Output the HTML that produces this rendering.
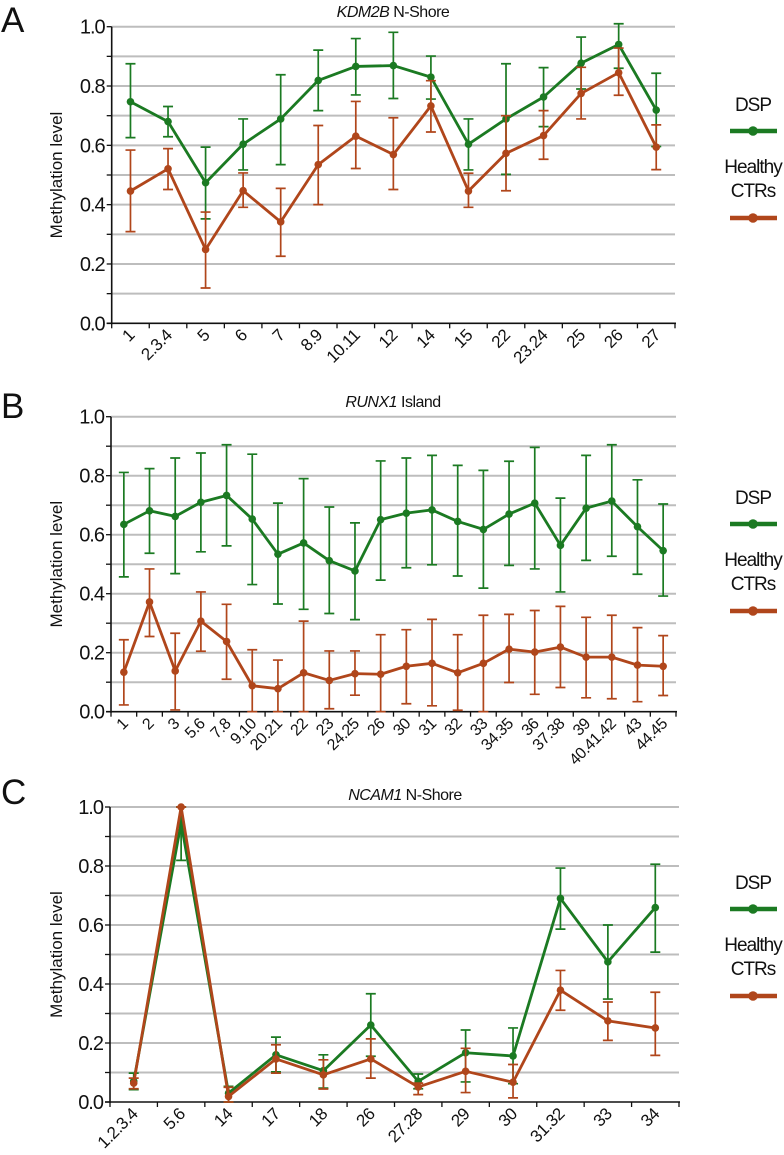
<!DOCTYPE html>
<html><head><meta charset="utf-8"><style>
html,body{margin:0;padding:0;background:#fff;width:784px;height:1155px;overflow:hidden}
svg{display:block;font-family:"Liberation Sans",Arial,sans-serif}
</style></head><body>
<svg id="fig" width="784" height="1155" viewBox="0 0 784 1155" xmlns="http://www.w3.org/2000/svg"></svg>
<script>
// Panel A data
const catsA = ["1","2.3.4","5","6","7","8.9","10.11","12","14","15","22","23.24","25","26","27"];
const dspA = [0.747,0.68,0.474,0.604,0.689,0.819,0.866,0.869,0.83,0.604,0.689,0.763,0.877,0.94,0.719];
const dspHiA = [0.875,0.731,0.594,0.689,0.838,0.921,0.96,0.981,0.901,0.689,0.875,0.862,0.965,1.01,0.843];
const dspLoA = [0.626,0.629,0.352,0.517,0.535,0.717,0.77,0.758,0.756,0.517,0.502,0.663,0.79,0.86,0.596];
const ctrA = [0.446,0.521,0.249,0.447,0.342,0.535,0.631,0.569,0.733,0.446,0.573,0.633,0.775,0.845,0.594];
const ctrHiA = [0.584,0.589,0.375,0.507,0.455,0.667,0.748,0.693,0.818,0.506,0.7,0.717,0.863,0.928,0.669];
const ctrLoA = [0.309,0.451,0.119,0.391,0.226,0.4,0.522,0.451,0.645,0.391,0.447,0.553,0.689,0.769,0.518];
// Panel B data
const catsB = ["1","2","3","5.6","7.8","9.10","20.21","22","23","24.25","26","30","31","32","33","34.35","36","37.38","39","40.41.42","43","44.45"];
const dspB = [0.635,0.681,0.662,0.71,0.733,0.653,0.534,0.572,0.512,0.477,0.651,0.673,0.684,0.645,0.618,0.67,0.707,0.564,0.69,0.714,0.627,0.546];
const dspHiB = [0.811,0.824,0.86,0.877,0.905,0.873,0.707,0.79,0.694,0.64,0.85,0.86,0.869,0.835,0.818,0.849,0.896,0.724,0.869,0.905,0.786,0.704];
const dspLoB = [0.457,0.537,0.468,0.542,0.562,0.431,0.365,0.347,0.333,0.312,0.446,0.488,0.498,0.46,0.419,0.496,0.484,0.406,0.513,0.527,0.466,0.392];
const ctrB = [0.134,0.372,0.138,0.307,0.238,0.088,0.078,0.132,0.106,0.129,0.127,0.154,0.164,0.132,0.164,0.212,0.202,0.219,0.185,0.185,0.158,0.154];
const ctrHiB = [0.244,0.484,0.266,0.406,0.364,0.21,0.175,0.307,0.206,0.206,0.261,0.278,0.313,0.261,0.327,0.33,0.343,0.357,0.32,0.327,0.285,0.258];
const ctrLoB = [0.023,0.255,0.006,0.205,0.11,0,0,0,0.01,0.056,0,0.027,0.02,0.005,0,0.099,0.059,0.082,0.047,0.044,0.034,0.055];
// Panel C data
const catsC = ["1.2.3.4","5.6","14","17","18","26","27.28","29","30","31.32","33","34"];
const dspC = [0.07,0.946,0.03,0.16,0.106,0.261,0.07,0.167,0.156,0.69,0.475,0.659];
const dspHiC = [0.098,1.0,0.053,0.22,0.16,0.367,0.095,0.244,0.251,0.793,0.6,0.806];
const dspLoC = [0.042,0.819,0,0.102,0.047,0.155,0.045,0.068,0.062,0.586,0.349,0.508];
const ctrC = [0.064,1.0,0.019,0.146,0.092,0.146,0.051,0.104,0.067,0.379,0.275,0.251];
const ctrHiC = [0.081,1.0,0.05,0.194,0.143,0.214,0.064,0.182,0.127,0.446,0.339,0.372];
const ctrLoC = [0.045,1.0,0,0.098,0.044,0.081,0.025,0.032,0.014,0.311,0.209,0.158];
const yTicks = ["0.0","0.2","0.4","0.6","0.8","1.0"];

const NS="http://www.w3.org/2000/svg";
const svg=document.getElementById('fig');
const GREEN="#1b7a22", RED="#b0461b";
function mk(tag,attrs,parent){const e=document.createElementNS(NS,tag);for(const k in attrs)e.setAttribute(k,attrs[k]);(parent||svg).appendChild(e);return e;}

function panel(o){
  const g=mk('g',{});
  
  
  const x0=o.x0,x1=o.x1,yTop=o.yTop,yBot=o.yBot,n=o.cats.length,bw=(x1-x0)/n;
  const X=i=>x0+bw*(i+0.5);
  const Y=v=>yBot-(yBot-yTop)*v;
  const L=mk('text',{x:1,y:o.letterY,'font-size':35,fill:'#111'},g);L.textContent=o.letter;
  
  const T=mk('text',{x:o.titleX,y:o.titleY,'font-size':16,'text-anchor':'middle',fill:'#111','letter-spacing':'-0.5'},g);
  
  const ti=mk('tspan',{'font-style':'italic'},T);ti.textContent=o.gene;
  const t2=mk('tspan',{},T);t2.textContent=' '+o.region;
  for(let k=1;k<=10;k++){
    const gl=mk('line',{x1:x0,x2:x1,y1:Y(k/10),y2:Y(k/10),stroke:'#bdbdbd','stroke-width':2},g);
    
  }
  const ya=mk('line',{x1:x0,x2:x0,y1:yTop,y2:yBot+1,stroke:'#111','stroke-width':1.6},g);
  
  const xa=mk('line',{x1:x0-5,x2:x1+1,y1:yBot,y2:yBot,stroke:'#111','stroke-width':1.6},g);
  
  for(let k=0;k<=10;k++){mk('line',{x1:x0-5,x2:x0,y1:Y(k/10),y2:Y(k/10),stroke:'#111','stroke-width':1.3},g);}
  yTicks.forEach((lab,k)=>{
    const t=mk('text',{x:x0-7,y:Y(k*0.2)+7,'font-size':20,'text-anchor':'end',fill:'#111','letter-spacing':'-1'},g);
    t.textContent=lab;
    
  });
  const yl=mk('text',{x:0,y:0,'font-size':17,'text-anchor':'middle',fill:'#111',transform:`translate(${o.ylabX},${(yTop+yBot)/2}) rotate(-90)`},g);
  yl.textContent='Methylation  level';
  
  for(let i=0;i<=n;i++){mk('line',{x1:x0+bw*i,x2:x0+bw*i,y1:yBot,y2:yBot+5,stroke:'#111','stroke-width':1.3},g);}
  o.cats.forEach((c,i)=>{
    const xx=X(i)+5,yy=yBot+13;
    const t=mk('text',{x:xx,y:yy,'font-size':o.xfs,'text-anchor':'end',fill:'#111','letter-spacing':'-0.5',transform:`rotate(-45 ${xx} ${yy})`},g);
    t.textContent=c;
    
  });
  const series=[[o.dsp,o.dspHi,o.dspLo,GREEN,'dsp'],[o.ctr,o.ctrHi,o.ctrLo,RED,'healthy-ctrs']];
  series.forEach(([v,hi,lo,col,nm])=>{
    const sg=mk('g',{},g);
    
    v.forEach((_,i)=>{
      const eb=mk('path',{d:`M${X(i)},${Y(hi[i])}V${Y(lo[i])}M${X(i)-5},${Y(hi[i])}h10M${X(i)-5},${Y(lo[i])}h10`,stroke:col,'stroke-width':1.7,fill:'none'},sg);
      
    });
    const ln=mk('polyline',{points:v.map((d,i)=>X(i)+','+Y(d)).join(' '),stroke:col,'stroke-width':2.8,fill:'none','stroke-linejoin':'round'},sg);
    
    v.forEach((d,i)=>{
      const c=mk('circle',{cx:X(i),cy:Y(d),r:3.8,fill:col},sg);
      
    });
  });
  const lg=mk('g',{},g);
  
  const ly=o.legY;
  let t=mk('text',{x:753,y:ly,'font-size':19,'text-anchor':'middle',fill:'#111','letter-spacing':'-1'},lg);t.textContent='DSP';
  mk('line',{x1:730,x2:777,y1:ly+20,y2:ly+20,stroke:GREEN,'stroke-width':4.5},lg);
  mk('circle',{cx:753,cy:ly+20,r:4.8,fill:GREEN},lg);
  t=mk('text',{x:753,y:ly+62,'font-size':19,'text-anchor':'middle',fill:'#111','letter-spacing':'-1'},lg);t.textContent='Healthy';
  t=mk('text',{x:753,y:ly+86,'font-size':19,'text-anchor':'middle',fill:'#111','letter-spacing':'-1'},lg);t.textContent='CTRs';
  mk('line',{x1:730,x2:777,y1:ly+107,y2:ly+107,stroke:RED,'stroke-width':4.5},lg);
  mk('circle',{cx:753,cy:ly+107,r:4.8,fill:RED},lg);
}

panel({id:'a',letter:'A',letterY:32,gene:'KDM2B',region:'N-Shore',titleX:393,titleY:17,x0:111.7,x1:675,yTop:26.7,yBot:323.3,ylabX:62,xfs:17,cats:catsA,dsp:dspA,dspHi:dspHiA,dspLo:dspLoA,ctr:ctrA,ctrHi:ctrHiA,ctrLo:ctrLoA,legY:111});
panel({id:'b',letter:'B',letterY:418,gene:'RUNX1',region:'Island',titleX:393,titleY:407,x0:111,x1:676,yTop:416.7,yBot:711.7,ylabX:62,xfs:16,cats:catsB,dsp:dspB,dspHi:dspHiB,dspLo:dspLoB,ctr:ctrB,ctrHi:ctrHiB,ctrLo:ctrLoB,legY:504});
panel({id:'c',letter:'C',letterY:804,gene:'NCAM1',region:'N-Shore',titleX:405,titleY:800,x0:110,x1:679,yTop:807,yBot:1102,ylabX:62,xfs:17,cats:catsC,dsp:dspC,dspHi:dspHiC,dspLo:dspLoC,ctr:ctrC,ctrHi:ctrHiC,ctrLo:ctrLoC,legY:889});
</script>
</body></html>
